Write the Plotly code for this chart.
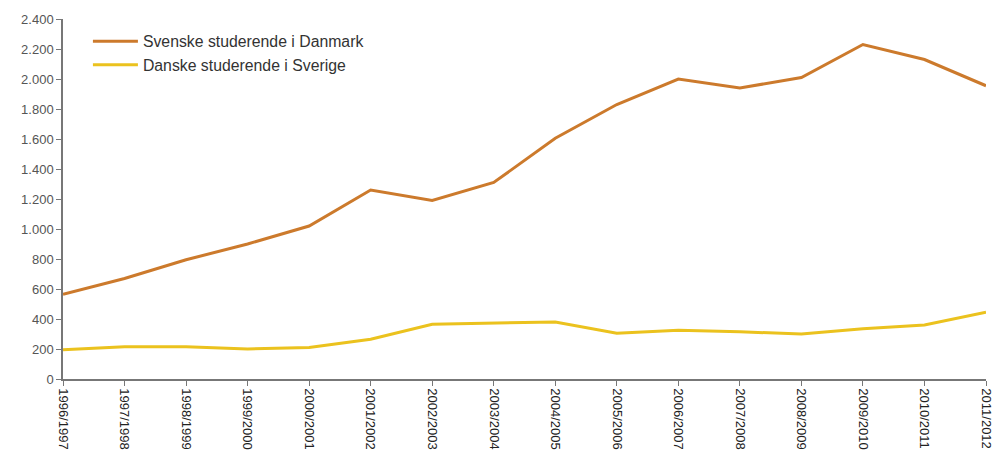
import plotly.graph_objects as go

categories = ["1996/1997", "1997/1998", "1998/1999", "1999/2000", "2000/2001", "2001/2002",
              "2002/2003", "2003/2004", "2004/2005", "2005/2006", "2006/2007", "2007/2008",
              "2008/2009", "2009/2010", "2010/2011", "2011/2012"]
svenske_i_danmark = [565, 670, 795, 900, 1020, 1260, 1190, 1310, 1605, 1830, 2000, 1940,
                     2010, 2230, 2130, 1955]
danske_i_sverige = [195, 215, 215, 200, 210, 265, 365, 370, 380, 305, 325, 315,
                    300, 335, 360, 445]
y_ticks = list(range(0, 2401, 200))
y_tick_labels = ["0", "200", "400", "600", "800", "1.000", "1.200", "1.400", "1.600",
                 "1.800", "2.000", "2.200", "2.400"]

x = list(range(len(categories)))

fig = go.Figure()
fig.add_trace(go.Scatter(x=x, y=svenske_i_danmark, mode="lines",
                         name="Svenske studerende i Danmark",
                         line=dict(color="#CC7A2C", width=3)))
fig.add_trace(go.Scatter(x=x, y=danske_i_sverige, mode="lines",
                         name="Danske studerende i Sverige",
                         line=dict(color="#EBC21E", width=3)))

fig.update_layout(
    width=1006, height=464,
    margin=dict(l=63, r=16, t=17, b=85),
    paper_bgcolor="white", plot_bgcolor="white",
    font=dict(family="Liberation Sans, Arial, sans-serif", size=12, color="#444"),
    showlegend=True,
    legend=dict(x=0.027, y=0.985, xanchor="left", yanchor="top",
                bgcolor="rgba(0,0,0,0)", font=dict(size=15.8, color="#333"),
                tracegroupgap=0, itemwidth=45),
    xaxis=dict(range=[0, len(categories) - 1], tickmode="array", tickvals=x,
               ticktext=categories, tickangle=90, showgrid=False, zeroline=False,
               showline=True, linecolor="#777", linewidth=1.5, ticks="outside",
               ticklen=5, tickcolor="#777", tickfont=dict(size=13, color="#222")),
    yaxis=dict(range=[0, 2400], tickmode="array", tickvals=y_ticks,
               ticktext=y_tick_labels, showgrid=False, zeroline=False,
               showline=True, linecolor="#777", linewidth=1.5, ticks="outside",
               ticklen=5, tickcolor="#777", tickfont=dict(size=13, color="#555")),
)

fig.write_html("out.html")
